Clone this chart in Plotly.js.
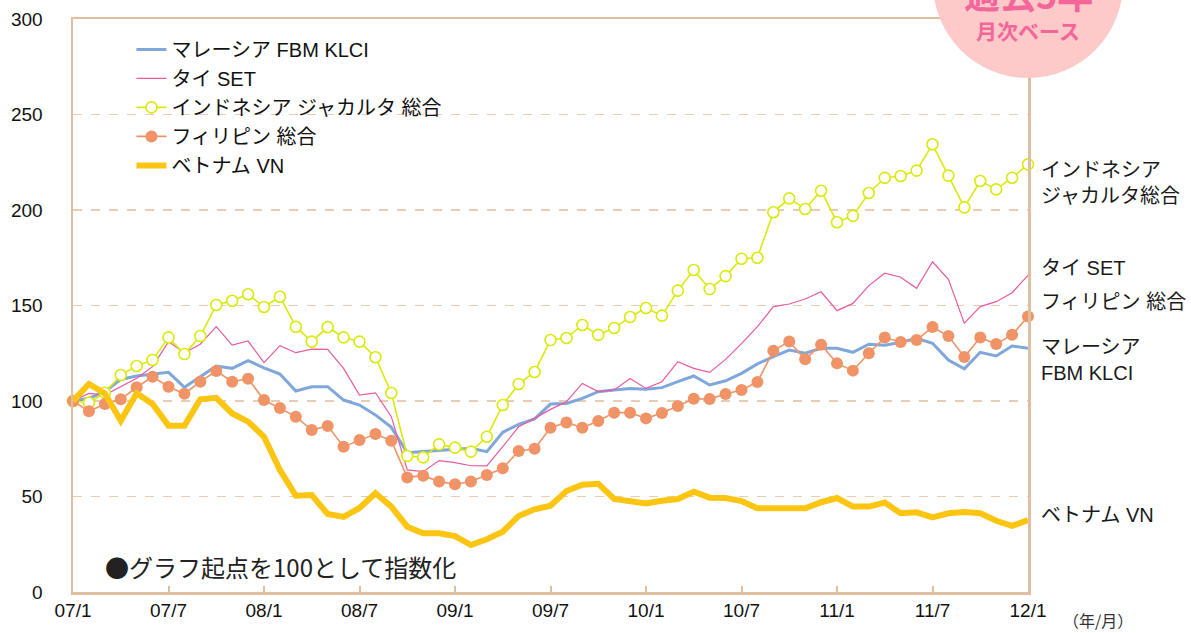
<!DOCTYPE html>
<html>
<head>
<meta charset="utf-8">
<script src="https://cdn.plot.ly/plotly-3.0.1.min.js"></script>
<style>html,body{margin:0;padding:0;background:#fff;}#chart{width:1191px;height:633px;}</style>
</head>
<body>
<div id="chart"></div>
<script>
// Monthly index values, 2007/1 = 100 (61 months: 07/1 .. 12/1)
const malaysia = [100,101.4,104.9,111.3,113.1,114.0,115.0,107.2,112.7,118.3,117.1,121.1,117.4,114.1,105.2,107.5,107.5,100.5,97.9,92.7,86.2,72.9,73.5,74.0,74.7,75.2,73.5,83.6,87.8,90.6,98.4,98.7,101.4,104.9,105.8,106.6,106.1,107.0,110.1,113.1,108.4,110.6,114.5,119.4,123.2,126.7,125.0,127.6,127.6,125.5,129.7,129.2,130.7,132.8,130.2,121.5,116.8,125.5,123.6,128.8,127.6];
const thailand = [100,104.0,103.1,107.5,111.9,118.0,131.1,125.3,129.7,138.9,129.3,131.4,120.1,129.0,125.3,127.2,127.0,117.1,103.1,104.3,91.8,63.9,63.0,68.8,67.7,66.1,66.0,76.1,86.5,90.9,95.6,99.6,109.2,104.9,105.8,111.8,106.6,110.1,120.6,117.1,115.0,121.8,130.0,138.9,149.4,150.8,153.4,157.2,147.3,151.1,160.4,166.9,164.8,159.0,172.9,163.7,140.7,149.4,152.0,156.7,165.8];
const indonesia = [100,99.1,104.3,113.6,118.3,121.5,133.3,124.6,134.0,150.3,152.5,155.9,149.2,154.6,138.9,131.1,138.7,133.3,131.1,122.9,104.2,71.2,70.5,77.3,75.6,73.5,81.3,97.9,108.9,115.2,131.9,133.0,139.8,134.6,138.2,144.0,148.7,144.7,157.8,168.6,158.6,165.4,174.5,175.0,198.8,206.1,200.5,210.1,193.6,196.9,208.9,216.8,217.8,220.6,234.4,218.0,201.4,215.2,210.8,216.9,223.9];
const philippines = [100,94.6,98.4,100.9,107.2,112.7,107.5,103.8,110.1,115.7,110.1,111.7,100.5,96.3,91.8,84.8,86.9,76.1,79.6,82.7,79.2,60.0,60.9,57.8,56.4,57.8,61.3,64.8,73.8,75.0,86.0,88.8,86.0,89.5,93.9,93.9,90.9,93.7,97.4,101.2,101.0,103.7,105.8,109.9,126.3,131.2,121.8,129.5,119.7,115.9,125.0,133.2,130.9,131.9,138.7,134.0,123.0,133.3,129.8,134.7,144.2];
const vietnam = [100,108.9,104.0,89.7,104.0,98.4,87.1,87.1,100.9,101.7,93.5,89.2,81.3,63.9,50.4,50.8,40.8,39.3,44.0,51.7,44.7,34.2,30.7,30.7,29.3,24.6,27.6,31.6,39.8,43.3,45.2,52.9,56.2,56.7,48.7,47.8,46.4,47.8,48.7,52.5,49.4,49.2,47.6,43.8,43.8,43.8,43.8,47.0,49.2,44.7,44.7,46.8,41.2,41.7,39.1,41.2,41.9,41.2,37.3,34.6,37.7];

const seriesNames = ['マレーシア FBM KLCI','タイ SET','インドネシア ジャカルタ 総合','フィリピン 総合','ベトナム VN'];
const endLabels = ['マレーシア<br>FBM KLCI','タイ SET','インドネシア<br>ジャカルタ総合','フィリピン 総合','ベトナム VN'];
const tickLabels = ['07/1','07/7','08/1','08/7','09/1','09/7','10/1','10/7','11/1','11/7','12/1'];
const tickMonths = [0,6,12,18,24,30,36,42,48,54,60];
const yTicks = [0,50,100,150,200,250,300];
const noteText = '●グラフ起点を100として指数化';
const unitText = '（年/月）';
const badgeTop = '過去5年';
const badgeBottom = '月次ベース';

const months = malaysia.map((_, i) => i);

const JP = '"Liberation Sans", Arial, "Noto Sans CJK JP", sans-serif';
const CJK = '"Noto Sans CJK JP", sans-serif';
const axisColor = '#dfbf9f';
const gridColor = '#e8cdb6';

const traces = [
  {y: malaysia, name: seriesNames[0], mode: 'lines', line: {color: '#7fa7db', width: 3}},
  {y: thailand, name: seriesNames[1], mode: 'lines', line: {color: '#ea5a9c', width: 1.2}},
  {y: indonesia, name: seriesNames[2], mode: 'lines+markers', line: {color: '#d9ea0b', width: 1.6},
   marker: {symbol: 'circle', size: 11, color: '#ffffff', line: {color: '#d9ea0b', width: 1.6}}},
  {y: philippines, name: seriesNames[3], mode: 'lines+markers', line: {color: '#f09468', width: 1.6},
   marker: {symbol: 'circle', size: 12, color: '#f09468'}},
  {y: vietnam, name: seriesNames[4], mode: 'lines', line: {color: '#fcc512', width: 6}}
].map((t, k) => Object.assign({x: months, type: 'scatter', cliponaxis: false, legendgroup: 'g' + k, hoverinfo: 'skip'}, t));

// end-of-line label positions (value axis)
const endY = [121.7, 169.6, 214.4, 151.8, 40.3];

const annotations = endLabels.map((t, k) => ({
  xref: 'paper', yref: 'y', x: 1.012, y: endY[k], xanchor: 'left', yanchor: 'middle',
  text: t, showarrow: false, align: 'left', font: {family: JP, size: 20, color: '#1a1a1a'}
}));
annotations.push({xref: 'x', yref: 'y', x: 1.9, y: 13.5, xanchor: 'left', yanchor: 'middle', text: noteText,
  showarrow: false, font: {family: CJK, size: 24, color: '#222'}});
annotations.push({xref: 'paper', yref: 'paper', x: 1.035, y: -0.048, xanchor: 'left', yanchor: 'middle', text: unitText,
  showarrow: false, font: {family: CJK, size: 16, color: '#333'}});
annotations.push({xref: 'paper', yref: 'paper', x: 1.0, y: 1.0454, xanchor: 'center', yanchor: 'middle', text: '<b>' + badgeTop + '</b>',
  showarrow: false, font: {family: CJK, size: 36, color: '#f2669a'}});
annotations.push({xref: 'paper', yref: 'paper', x: 1.0, y: 0.981, xanchor: 'center', yanchor: 'middle', text: '<b>' + badgeBottom + '</b>',
  showarrow: false, font: {family: CJK, size: 21, color: '#f2669a'}});

const layout = {
  width: 1191, height: 633,
  margin: {l: 73, r: 163, t: 19, b: 41},
  paper_bgcolor: '#ffffff', plot_bgcolor: '#ffffff',
  font: {family: JP, color: '#111'},
  showlegend: true,
  legend: {x: 0.0612, y: 0.981, xanchor: 'left', yanchor: 'top', bgcolor: 'rgba(0,0,0,0)',
    font: {family: JP, size: 20, color: '#111'}, tracegroupgap: 5, traceorder: 'normal'},
  xaxis: {range: [0, 60], tickvals: tickMonths, ticktext: tickLabels, showgrid: false, zeroline: false,
    showline: true, linecolor: axisColor, linewidth: 2.5, mirror: true,
    ticks: 'inside', ticklen: 6, tickcolor: axisColor, tickwidth: 2,
    tickfont: {family: JP, size: 19, color: '#111'}},
  yaxis: {range: [0, 300], tickvals: yTicks, showgrid: true, gridcolor: gridColor, griddash: 'dash', gridwidth: 1.3,
    zeroline: false, showline: true, linecolor: axisColor, linewidth: 2.5, mirror: true, ticks: '',
    ticklabelstandoff: 24, tickfont: {family: JP, size: 19, color: '#111'}},
  shapes: [{type: 'circle', xref: 'paper', yref: 'paper', x0: 0.9005, x1: 1.0995, y0: 0.897, y1: 1.2286,
    fillcolor: '#fdc9c9', line: {width: 0}, layer: 'above'}],
  annotations: annotations
};

Plotly.newPlot('chart', traces, layout, {displayModeBar: false, staticPlot: true});
</script>
</body>
</html>
